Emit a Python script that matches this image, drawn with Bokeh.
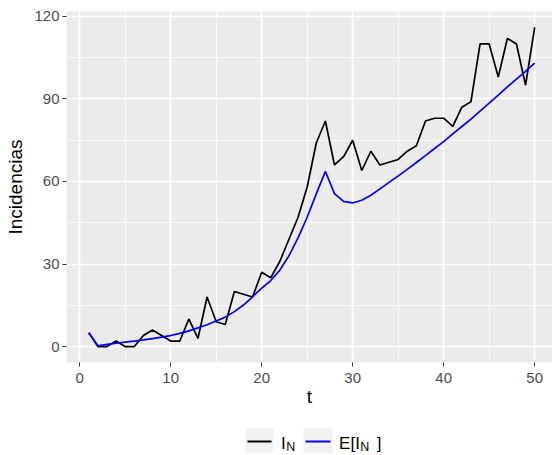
from bokeh.plotting import figure
from bokeh.models import Range1d, SingleIntervalTicker
from bokeh.layouts import column
from bokeh.embed import file_html
from bokeh.resources import INLINE
from bokeh.core.properties import value

# ---- data ----
t = list(range(1, 51))
incidencias = [5, 0, 0, 2, 0, 0, 4, 6, 4, 2,
               2, 10, 3, 18, 9, 8, 20, 19, 18, 27,
               25, 31, 39, 47, 58, 74, 82, 66, 69, 75,
               64, 71, 66, 67, 68, 71, 73, 82, 83, 83,
               80, 87, 89, 110, 110, 98, 112, 110, 95, 116]
esperado = [5, 0.3, 0.8, 1.2, 1.6, 2.0, 2.4, 2.9, 3.4, 4.0,
            4.8, 5.7, 6.8, 7.9, 9.3, 10.7, 12.7, 15.1, 18.1, 21.2,
            24.0, 27.8, 33.0, 39.5, 47.0, 55.5, 63.7, 55.6, 52.8, 52.2,
            53.2, 55.0, 57.3, 59.7, 62.0, 64.4, 66.9, 69.4, 72.0, 74.5,
            77.3, 80.0, 82.7, 85.6, 88.5, 91.4, 94.4, 97.2, 100.0, 103.0]
x_tick_interval = 10
y_tick_interval = 30
x_title = "t"
y_title = "Incidencias"
legend_main = ["I", "E[I"]
legend_sub = ["N", "N"]
legend_close = ["", "]"]
series_colors = ["black", "blue"]

FONT = "Liberation Sans"

p = figure(width=552, height=410, output_backend="svg", toolbar_location=None,
           x_range=Range1d(-1.45, 51.96), y_range=Range1d(-5.8, 121.8),
           min_border_left=66, min_border_right=0, min_border_top=11,
           min_border_bottom=48)
p.background_fill_color = "#EBEBEB"
p.border_fill_color = "white"
p.outline_line_color = None

xt = SingleIntervalTicker(interval=x_tick_interval, num_minor_ticks=2)
yt = SingleIntervalTicker(interval=y_tick_interval, num_minor_ticks=2)
p.xaxis.ticker = xt
p.xgrid.ticker = xt
p.yaxis.ticker = yt
p.ygrid.ticker = yt

for g in (p.xgrid, p.ygrid):
    g.grid_line_color = "white"
    g.grid_line_width = 1.6
    g.minor_grid_line_color = "white"
    g.minor_grid_line_width = 0.8

for ax in (p.xaxis, p.yaxis):
    ax.axis_line_color = None
    ax.major_tick_line_color = "#333333"
    ax.major_tick_line_width = 1
    ax.major_tick_out = 4
    ax.major_tick_in = 0
    ax.minor_tick_out = 0
    ax.minor_tick_in = 0
    ax.major_label_text_color = "#4D4D4D"
    ax.major_label_text_font = FONT
    ax.major_label_text_font_size = "15px"
    ax.axis_label_text_font = FONT
    ax.axis_label_text_font_size = "19px"
    ax.axis_label_text_font_style = "normal"
    ax.axis_label_text_color = "black"

p.xaxis.axis_label = x_title
p.yaxis.axis_label = y_title
p.xaxis.major_label_standoff = 6
p.yaxis.major_label_standoff = 3
p.xaxis.axis_label_standoff = 0
p.yaxis.axis_label_standoff = 5

p.line(t, incidencias, line_color=series_colors[0], line_width=1.7)
p.line(t, esperado, line_color=series_colors[1], line_width=1.7)

# ---- legend (separate strip below; its frame is aligned with the plot frame) ----
leg = figure(width=552, height=45, output_backend="svg", toolbar_location=None,
             x_range=Range1d(66, 552), y_range=Range1d(45, 0),
             x_axis_location=None, y_axis_location=None,
             min_border_left=0, min_border_right=0, min_border_top=0,
             min_border_bottom=0)
leg.grid.visible = False
leg.outline_line_color = None
leg.background_fill_color = "white"
leg.border_fill_color = "white"

leg.quad(left=[245, 303], right=[273, 332], top=[18, 18], bottom=[43, 43],
         fill_color="#F2F2F2", line_color=None)
leg.segment(x0=[247, 305], x1=[271, 330], y0=[31, 31], y1=[31, 31],
            line_color=series_colors, line_width=1.8)
leg.text(x=[280.5, 338.6], y=[33, 33], text=legend_main,
         text_font=value(FONT), text_font_size="17px", text_color="black",
         text_baseline="middle", text_align="left")
leg.text(x=[285.8, 359.8], y=[36.4, 36.4], text=legend_sub,
         text_font=value(FONT), text_font_size="12.5px", text_color="black",
         text_baseline="middle", text_align="left")
leg.text(x=[376.3, 376.3], y=[33, 33], text=legend_close,
         text_font=value(FONT), text_font_size="17px", text_color="black",
         text_baseline="middle", text_align="left")

layout = column(p, leg, spacing=0)
open("out.html", "w").write(file_html(layout, INLINE))
